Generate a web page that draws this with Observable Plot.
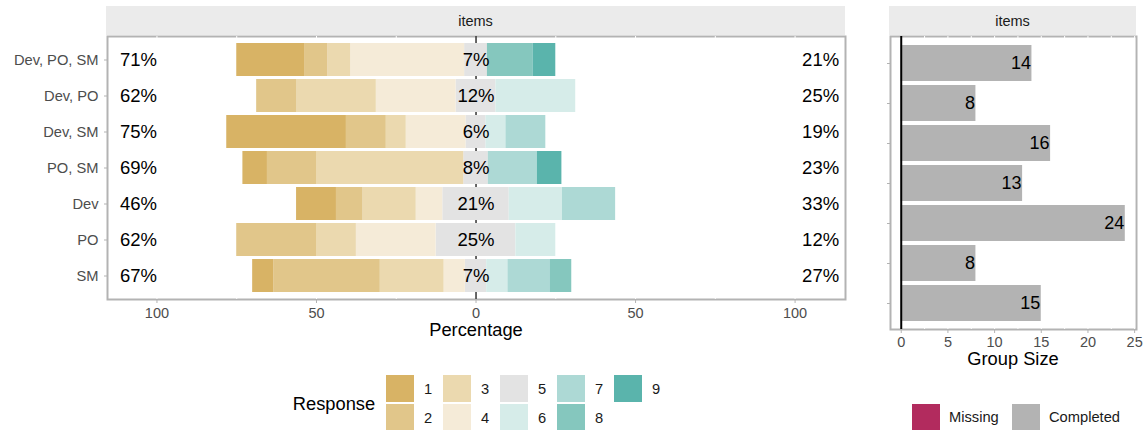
<!DOCTYPE html>
<html>
<head>
<meta charset="utf-8">
<script src="https://cdn.jsdelivr.net/npm/d3@7"></script>
<script src="https://cdn.jsdelivr.net/npm/@observablehq/plot@0.6"></script>
<style>
  body { margin: 0; background: #fff; font-family: "Liberation Sans", Arial, sans-serif; }
  #root { position: relative; width: 1146px; height: 430px; overflow: hidden; background: #fff; }
  #root svg { position: absolute; top: 0; }
  .strip { position: absolute; background: #EBEBEB; color: #1A1A1A; font-size: 14.5px; text-align: center; }
  .strip span { position: absolute; left: 0; right: 0; top: 50%; transform: translateY(-50%); }
  .title { position: absolute; font-size: 18.3px; color: #000; white-space: nowrap; transform: translate(-50%, -50%); }
  .sw { position: absolute; width: 28px; height: 27px; }
  .lt { position: absolute; font-size: 14.7px; color: #1A1A1A; white-space: nowrap; transform: translateY(-50%); }
</style>
</head>
<body>
<div id="root"></div>
<script>
// ---------- data ----------
const items = ["Dev, PO, SM", "Dev, PO", "Dev, SM", "PO, SM", "Dev", "PO", "SM"];
const levels = ["1", "2", "3", "4", "5", "6", "7", "8", "9"];
// percentage of answers per response level (rows follow `items`)
const resp1 = [21.43, 0, 37.5, 7.69, 12.5, 0, 6.67];
const resp2 = [7.14, 12.5, 12.5, 15.38, 8.33, 25, 33.33];
const resp3 = [7.14, 25, 6.25, 46.15, 16.67, 12.5, 20];
const resp4 = [35.71, 25, 18.75, 0, 8.33, 25, 6.67];
const resp5 = [7.14, 12.5, 6.25, 7.69, 20.83, 25, 6.67];
const resp6 = [0, 25, 6.25, 0, 16.67, 12.5, 6.67];
const resp7 = [0, 0, 12.5, 15.38, 16.67, 0, 13.33];
const resp8 = [14.29, 0, 0, 0, 0, 0, 6.67];
const resp9 = [7.14, 0, 0, 7.69, 0, 0, 0];
const groupSize = [14, 8, 16, 13, 24, 8, 15];
const xTicksLeft = [-100, -50, 0, 50, 100];
const xTicksRight = [0, 5, 10, 15, 20, 25];
const levelColors = ["#D8B365", "#E1C68A", "#EBD9AF", "#F5EBD8", "#E3E3E3", "#D6ECE9", "#ADD9D5", "#85C7BE", "#5AB4AC"];
const statusLabels = ["Missing", "Completed"];
const statusColors = ["#B22B5E", "#B3B3B3"];

// ---------- derived tables ----------
const resp = [resp1, resp2, resp3, resp4, resp5, resp6, resp7, resp8, resp9];
const segs = [];
const labels = [];
function roundEven(v) {
  const f = Math.abs(v - Math.trunc(v));
  if (Math.abs(f - 0.5) < 1e-9) return 2 * Math.round(v / 2);
  return Math.round(v);
}
items.forEach((item, i) => {
  const neu = resp[4][i];
  segs.push({item, level: "5", x1: -neu / 2, x2: neu / 2});
  let s = -neu / 2;
  for (let k = 3; k >= 0; k--) {
    const v = resp[k][i];
    if (v > 0) { segs.push({item, level: levels[k], x1: s - v, x2: s}); s -= v; }
  }
  s = neu / 2;
  for (let k = 5; k <= 8; k++) {
    const v = resp[k][i];
    if (v > 0) { segs.push({item, level: levels[k], x1: s, x2: s + v}); s += v; }
  }
  const low = resp[0][i] + resp[1][i] + resp[2][i] + resp[3][i];
  const high = resp[5][i] + resp[6][i] + resp[7][i] + resp[8][i];
  labels.push({item, low: roundEven(low) + "%", neutral: roundEven(neu) + "%", high: roundEven(high) + "%"});
});
const sizes = items.map((item, i) => ({item, n: groupSize[i]}));

const font = '"Liberation Sans", Arial, sans-serif';
const root = document.getElementById("root");

// ---------- left panel ----------
const left = Plot.plot({
  width: 860, height: 345,
  marginTop: 36, marginBottom: 46, marginLeft: 107, marginRight: 15,
  style: {fontFamily: font, background: "transparent", overflow: "visible"},
  x: {domain: [-115.5, 115.8], label: null},
  y: {domain: items, paddingInner: 0.08, paddingOuter: 0.14, label: null},
  color: {domain: levels, range: levelColors},
  marks: [
    Plot.frame({stroke: "#B3B3B3", strokeWidth: 2}),
    Plot.ruleX(d3.range(-100, 101, 25), {stroke: "#fff", strokeWidth: 1}),
    Plot.ruleX([0], {stroke: "#000", strokeWidth: 1.2}),
    Plot.barX(segs, {x1: "x1", x2: "x2", y: "item", fill: "level"}),
    Plot.text(labels, {x: () => -100, y: "item", text: "low", textAnchor: "end", fontSize: 18.5, fill: "#000"}),
    Plot.text(labels, {x: () => 0, y: "item", text: "neutral", textAnchor: "middle", fontSize: 18.5, fill: "#000"}),
    Plot.text(labels, {x: () => 100, y: "item", text: "high", textAnchor: "start", dx: 7, fontSize: 18.5, fill: "#000"}),
    Plot.axisX({ticks: xTicksLeft, tickFormat: d => Math.abs(d), tickSize: 4, tickPadding: 4, stroke: "#B3B3B3", fill: "#4D4D4D", fontSize: 14.5, label: null}),
    Plot.axisY({tickSize: 3, tickPadding: 6, stroke: "#B3B3B3", fill: "#4D4D4D", fontSize: 14.7, label: null})
  ]
});
left.style.left = "0px";
root.appendChild(left);

// ---------- right panel ----------
const right = Plot.plot({
  width: 286, height: 380,
  marginTop: 36, marginBottom: 51, marginLeft: 30, marginRight: 10,
  style: {fontFamily: font, background: "transparent", overflow: "visible"},
  x: {domain: [-1.15, 25.2], label: null},
  y: {domain: items, paddingInner: 0.1, paddingOuter: 0.15, label: null},
  marks: [
    Plot.frame({stroke: "#B3B3B3", strokeWidth: 2}),
    Plot.ruleX(d3.range(0, 25.1, 2.5), {stroke: "#fff", strokeWidth: 1}),
    Plot.barX(sizes, {x: "n", y: "item", fill: statusColors[1]}),
    Plot.ruleX([0], {stroke: "#000", strokeWidth: 2}),
    Plot.text(sizes, {x: "n", y: "item", text: d => String(d.n), textAnchor: "end", dx: -1, fontSize: 18, fill: "#000"}),
    Plot.axisX({ticks: xTicksRight, tickSize: 4, tickPadding: 3, stroke: "#B3B3B3", fill: "#4D4D4D", fontSize: 14.5, label: null}),
    Plot.axisY({tickSize: 3, tickFormat: () => "", stroke: "#B3B3B3", label: null})
  ]
});
right.style.left = "860px";
root.appendChild(right);

// ---------- strips, titles, legends ----------
function add(html) { root.insertAdjacentHTML("beforeend", html); }
add('<div class="strip" style="left:106px;top:6px;width:739px;height:29px;"><span>items</span></div>');
add('<div class="strip" style="left:889px;top:6px;width:247px;height:29px;"><span>items</span></div>');
add('<div class="title" style="left:476px;top:330px;">Percentage</div>');
add('<div class="title" style="left:1013px;top:359px;">Group Size</div>');

add('<div class="title" style="left:334px;top:404px;">Response</div>');
levels.forEach((lv, k) => {
  const col = Math.floor(k / 2), row = k % 2;
  const x = 386 + col * 57, y = 375 + row * 29;
  add(`<div class="sw" style="left:${x}px;top:${y}px;background:${levelColors[k]};"></div>`);
  add(`<div class="lt" style="left:${x + 38}px;top:${y + 14}px;">${lv}</div>`);
});
const stX = [912, 1012];
statusLabels.forEach((s, k) => {
  add(`<div class="sw" style="left:${stX[k]}px;top:404px;height:26px;background:${statusColors[k]};"></div>`);
  add(`<div class="lt" style="left:${stX[k] + 37}px;top:417px;">${s}</div>`);
});
</script>
</body>
</html>
